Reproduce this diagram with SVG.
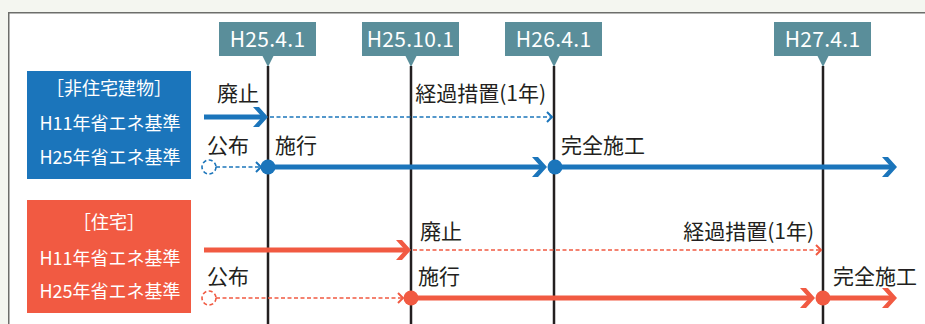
<svg xmlns="http://www.w3.org/2000/svg" xmlns:xlink="http://www.w3.org/1999/xlink" width="925" height="324" viewBox="0 0 925 324">
<style>
.date rect,.date path{fill:#5a8e9a}
.date text{fill:#fff;font-family:"Noto Sans CJK JP","Noto Sans",sans-serif;font-size:21px;text-anchor:middle;letter-spacing:0.3px}
.vline{stroke:#231f20;stroke-width:2.5}
.cat text{fill:#fff;font-family:"Noto Sans CJK JP",sans-serif;font-size:18px;text-anchor:middle}
.lbl{fill:#231f20;font-family:"Noto Sans CJK JP",sans-serif;font-size:21px}
.thick{stroke-width:5;fill:none}
.dash{stroke-width:1.6;stroke-dasharray:4 2.5;fill:none}
.sch{stroke-width:2;fill:none}
.blue{stroke:#1b75bb}
.red{stroke:#f15a42}
</style>
<defs>
<path id="chev" d="M-15,-10 L-9,-10 L0,0 L-9,10 L-15,10 L-6,0 Z"/>
<path id="schev" d="M-5,-5 L0,0 L-5,5"/>
</defs>
<rect x="0" y="0" width="925" height="324" fill="#f4f6f0"/>
<rect x="8.75" y="12.75" width="930" height="330" fill="#fff" stroke="#6d6e6b" stroke-width="1.5"/>

<g id="date-H25-4-1" class="date">
<rect x="219" y="22" width="97" height="34"/><path d="M262,55 L274,55 L268,67 Z"/>
<text x="267.5" y="47">H25.4.1</text>
<line class="vline" x1="268" y1="66" x2="268" y2="324"/>
</g>
<g id="date-H25-10-1" class="date">
<rect x="362" y="22" width="97" height="34"/><path d="M405,55 L417,55 L411,67 Z"/>
<text x="410.5" y="47">H25.10.1</text>
<line class="vline" x1="411" y1="66" x2="411" y2="324"/>
</g>
<g id="date-H26-4-1" class="date">
<rect x="505" y="22" width="97" height="34"/><path d="M548,55 L560,55 L554,67 Z"/>
<text x="553.5" y="47">H26.4.1</text>
<line class="vline" x1="554" y1="66" x2="554" y2="324"/>
</g>
<g id="date-H27-4-1" class="date">
<rect x="774" y="22" width="97" height="34"/><path d="M817,55 L829,55 L823,67 Z"/>
<text x="822.5" y="47">H27.4.1</text>
<line class="vline" x1="823" y1="66" x2="823" y2="324"/>
</g>

<g id="cat-nonresidential" class="cat">
<rect x="27" y="71" width="164" height="108" fill="#1b75bb"/>
<text x="109" y="95">［非住宅建物］</text>
<text x="110" y="130">H11年省エネ基準</text>
<text x="110" y="164">H25年省エネ基準</text>
</g>
<g id="cat-residential" class="cat">
<rect x="27" y="200" width="164" height="113" fill="#f15a42"/>
<text x="109" y="229">［住宅］</text>
<text x="110" y="265">H11年省エネ基準</text>
<text x="110" y="298">H25年省エネ基準</text>
</g>

<g id="connectors">
<line class="thick blue" x1="204" y1="117" x2="263" y2="117"/>
<use xlink:href="#chev" transform="translate(268,117)" fill="#1b75bb"/>
<line class="dash blue" x1="270" y1="117" x2="552" y2="117"/>
<use xlink:href="#schev" transform="translate(552,117)" class="sch blue"/>
<circle cx="209" cy="167" r="7" class="dash blue" stroke-dasharray="3 2"/>
<line class="dash blue" x1="216" y1="167" x2="260" y2="167"/>
<use xlink:href="#schev" transform="translate(261,167)" class="sch blue"/>
<circle cx="268" cy="167" r="7.5" fill="#1b75bb"/>
<line class="thick blue" x1="268" y1="167" x2="542" y2="167"/>
<use xlink:href="#chev" transform="translate(547,167)" fill="#1b75bb"/>
<circle cx="555" cy="167" r="7.5" fill="#1b75bb"/>
<line class="thick blue" x1="555" y1="167" x2="892" y2="167"/>
<use xlink:href="#chev" transform="translate(897,167)" fill="#1b75bb"/>
<line class="thick red" x1="204" y1="250" x2="405" y2="250"/>
<use xlink:href="#chev" transform="translate(411,250)" fill="#f15a42"/>
<line class="dash red" x1="413" y1="250" x2="821" y2="250"/>
<use xlink:href="#schev" transform="translate(821,250)" class="sch red"/>
<circle cx="209" cy="298" r="7" class="dash red" stroke-dasharray="3 2"/>
<line class="dash red" x1="216" y1="298" x2="402" y2="298"/>
<use xlink:href="#schev" transform="translate(403,298)" class="sch red"/>
<circle cx="411" cy="298" r="7.5" fill="#f15a42"/>
<line class="thick red" x1="411" y1="298" x2="810" y2="298"/>
<use xlink:href="#chev" transform="translate(815,298)" fill="#f15a42"/>
<circle cx="823" cy="298" r="7.5" fill="#f15a42"/>
<line class="thick red" x1="823" y1="298" x2="892" y2="298"/>
<use xlink:href="#chev" transform="translate(897,298)" fill="#f15a42"/>
</g>

<g id="labels">
<text class="lbl" x="217" y="101">廃止</text>
<text class="lbl" x="546" y="101" text-anchor="end" font-size="20">経過措置(1年)</text>
<text class="lbl" x="207" y="153">公布</text>
<text class="lbl" x="275" y="153">施行</text>
<text class="lbl" x="561" y="153">完全施工</text>
<text class="lbl" x="420" y="239">廃止</text>
<text class="lbl" x="814" y="239" text-anchor="end" font-size="20">経過措置(1年)</text>
<text class="lbl" x="207" y="284">公布</text>
<text class="lbl" x="418" y="284">施行</text>
<text class="lbl" x="833" y="284">完全施工</text>
</g>
</svg>
